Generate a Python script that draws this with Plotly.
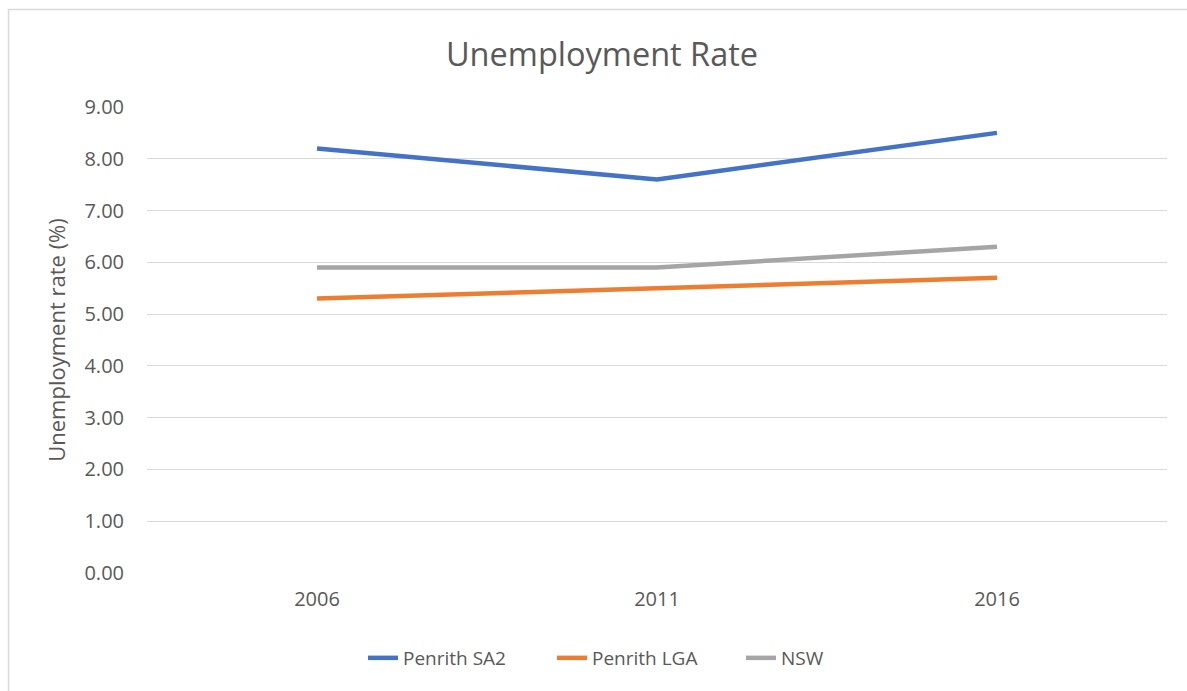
import plotly.graph_objects as go

years = ["2006", "2011", "2016"]
penrith_sa2 = [8.2, 7.6, 8.5]
penrith_lga = [5.3, 5.5, 5.7]
nsw = [5.9, 5.9, 6.3]
series_names = ["Penrith SA2", "Penrith LGA", "NSW"]
colors = ["#4472C4", "#ED7D31", "#A5A5A5"]
y_ticks = [0, 1, 2, 3, 4, 5, 6, 7, 8, 9]

FONT = "Open Sans"
fig = go.Figure()
for name, vals, c in zip(series_names, [penrith_sa2, penrith_lga, nsw], colors):
    fig.add_trace(go.Scatter(x=years, y=vals, name=name, mode="lines",
                             line=dict(color=c, width=4.5)))

W, H = 1187, 691
L, R, T, B = 147, 20, 107, 118
pw, ph = W - L - R, H - T - B
def px(x): return (x - L) / pw
def py(y): return (H - B - y) / ph

fig.add_shape(type="rect", xref="paper", yref="paper",
              x0=px(8.5), x1=px(1210), y0=py(9.5), y1=py(720),
              line=dict(color="#D9D9D9", width=1.5), fillcolor="rgba(0,0,0,0)", layer="below")

fig.update_layout(
    width=W, height=H,
    margin=dict(l=L, r=R, t=T, b=B),
    paper_bgcolor="white", plot_bgcolor="white",
    font=dict(family=FONT, color="#595959", size=20),
    title=dict(text="Unemployment Rate", x=px(602), xref="paper", xanchor="center",
               y=1 - 55/H, yanchor="middle", yref="container",
               font=dict(size=32.5, color="#595959", family=FONT)),
    xaxis=dict(type="category", range=[-0.5, 2.5], showgrid=False, zeroline=False,
               showline=False, ticks="", tickfont=dict(size=20, color="#595959"),
               ticklabelstandoff=12),
    yaxis=dict(range=[0, 9], tickvals=y_ticks, tickformat=".2f", showgrid=True,
               gridcolor="#D9D9D9", gridwidth=1, zeroline=False, showline=False,
               ticks="", tickfont=dict(size=20, color="#595959"), ticklabelstandoff=22,
               title=dict(text="Unemployment rate (%)", font=dict(size=22, color="#595959"),
                          standoff=12)),
    legend=dict(orientation="h", x=px(363), xanchor="left", y=py(658), yanchor="middle",
                font=dict(size=19, color="#595959"), entrywidth=144, entrywidthmode="pixels",
                traceorder="normal"),
    showlegend=True,
)
fig.write_html("out.html")
